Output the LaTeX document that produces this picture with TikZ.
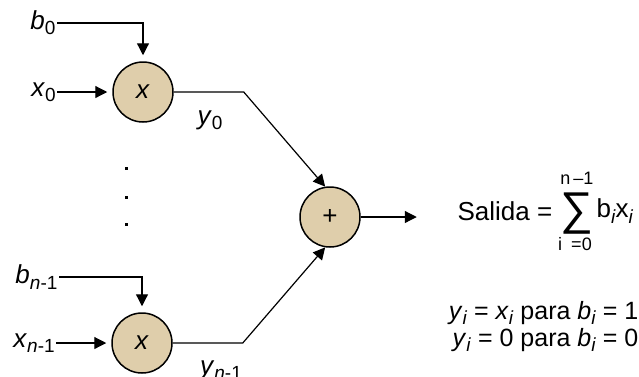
\documentclass[tikz,border=0pt]{standalone}
\usepackage{fontspec}
\setmainfont{Liberation Sans}
\usetikzlibrary{arrows.meta,positioning}
\definecolor{tanfill}{RGB}{223,206,171}
\newcommand\sub[1]{\raisebox{-.2em}{\fontsize{19}{19}\selectfont #1}}

\begin{document}
\begin{tikzpicture}[x=1pt, y=-1pt, line width=1.2pt,
  >={Triangle[length=12pt,width=12pt]},
  op/.style={circle, draw, fill=tanfill, line width=1.5pt, minimum size=60pt, inner sep=0pt,
    font=\fontsize{26}{30}\selectfont},
  lbl/.style={font=\fontsize{26}{30}\selectfont, inner sep=1pt},
  dot/.style={fill, inner sep=0pt, minimum size=3pt}]
  \useasboundingbox (0,0) rectangle (639,376);

  % multipliers and adder
  \node[op] (m0) at (143,92) {\textit{x}};
  \node[op] (m1) at (142,343) {\textit{x}};
  \node[op] (sum) at (330,217) {+};

  % inputs
  \node[lbl, anchor=east] (b0) at (57,23) {\textit{b}\sub{0}};
  \node[lbl, left=55pt of m0] (x0) {\textit{x}\sub{0}};
  \node[lbl, anchor=east] (b1) at (59,277) {\textit{b}\sub{\textit{n}-1}};
  \node[lbl, left=55pt of m1] (x1) {\textit{x}\sub{\textit{n}-1}};

  \draw[->, shorten >=6pt] (b0) -| (m0);
  \draw[->, shorten >=5pt] (x0) -- (m0);
  \draw[->, shorten >=6pt] (b1) -| (m1);
  \draw[->, shorten >=5pt] (x1) -- (m1);

  \foreach \y in {168,197,224}
    \node[dot] at (126,\y) {};

  % outputs
  \coordinate[right=70pt of m0.east] (k0);
  \coordinate[right=70pt of m1.east] (k1);
  \node[lbl] (y0) at (210,120) {\textit{y}\sub{0}};
  \node[lbl] (y1) at (221,370) {\textit{y}\sub{\textit{n}-1}};
  \draw[->] (m0) -- (k0) -- (sum.99);
  \draw[->] (m1) -- (k1) -- (sum.261);
  \coordinate[right=56pt of sum.east] (out);
  \draw[->] (sum) -- (out);

  % result
  \node[lbl, anchor=west] (sal) at (456,211) {Salida =};
  \node[inner sep=0pt, font=\fontsize{46}{46}\selectfont] (sig) at (577,214) {∑};
  \node[inner sep=0pt, font=\fontsize{18}{18}\selectfont] (up) at (577,178) {n\,–1};
  \node[inner sep=0pt, font=\fontsize{18}{18}\selectfont] (lo) at (575,244) {i\enspace=0};
  \node[lbl, anchor=west] (bx) at (595,211) {b\sub{\textit{i}}x\sub{\textit{i}}};
  \node[lbl, align=right, anchor=east, font=\fontsize{25}{27}\selectfont] (cond) at (640,327)
    {\textit{y}\sub{\textit{i}} = \textit{x}\sub{\textit{i}} para \textit{b}\sub{\textit{i}} = 1\\
     \textit{y}\sub{\textit{i}} = 0 para \textit{b}\sub{\textit{i}} = 0};
\end{tikzpicture}
\end{document}
